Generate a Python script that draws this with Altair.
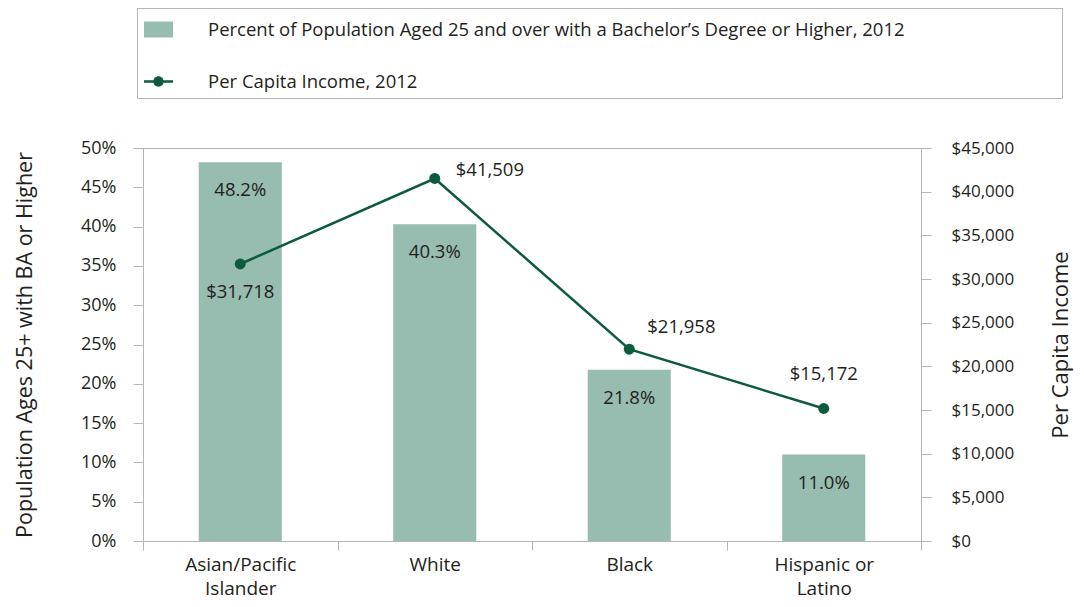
import altair as alt
import pandas as pd

categories = ["Asian/Pacific Islander", "White", "Black", "Hispanic or Latino"]
pct_bachelor = [48.2, 40.3, 21.8, 11.0]
per_capita_income = [31718, 41509, 21958, 15172]

series_bar = "Percent of Population Aged 25 and over with a Bachelor\u2019s Degree or Higher, 2012"
series_line = "Per Capita Income, 2012"

left_ticks = list(range(0, 51, 5))
right_ticks = list(range(0, 45001, 5000))

BAR = "#97bcb0"
LINE = "#0b5b3c"
TEXT = "#231f20"
GRAY = "#b5b5b5"
FONT = "Open Sans"

df = pd.DataFrame({
    "cat": categories,
    "pct": pct_bachelor,
    "income": per_capita_income,
    "series": [series_bar] * len(categories),
})

base = alt.Chart(df)

x = alt.X(
    "cat:N",
    sort=categories,
    scale=alt.Scale(paddingInner=0, paddingOuter=0),
    axis=alt.Axis(
        title=None,
        labelAngle=0,
        tickBand="extent",
        labelExpr="datum.label == 'Asian/Pacific Islander' ? ['Asian/Pacific', 'Islander'] : datum.label == 'Hispanic or Latino' ? ['Hispanic or', 'Latino'] : datum.label",
        labelFontSize=19,
        labelLineHeight=24,
        labelPadding=5,
        tickSize=9,
        labelBaseline="top",
    ),
)

y_left = alt.Y(
    "pct:Q",
    scale=alt.Scale(domain=[0, 50], nice=False),
    axis=alt.Axis(
        title="Population Ages 25+ with BA or Higher",
        values=left_ticks,
        labelExpr="datum.value + '%'",
        orient="left",
        tickSize=10,
        labelPadding=17,
        labelFontSize=18,
        titlePadding=44,
        titleFontSize=21.5,
    ),
)

sym_expr = (
    "datum.value === '" + series_line + "' ? "
    "'M-1,-0.085L-0.3,-0.085L-0.3,0.085L-1,0.085Z M0.3,-0.085L1,-0.085L1,0.085L0.3,0.085Z M0.36,0A0.36,0.36,0,1,1,-0.36,0A0.36,0.36,0,1,1,0.36,0Z' : "
    "'M-1,-0.55L1,-0.55L1,0.55L-1,0.55Z'"
)

bars = base.mark_bar(width=alt.RelativeBandSize(0.427)).encode(
    x=x,
    y=y_left,
    color=alt.Color(
        "series:N",
        scale=alt.Scale(domain=[series_bar, series_line], range=[BAR, LINE]),
        legend=alt.Legend(
            orient="none",
            legendX=-6,
            legendY=-140,
            direction="vertical",
            title="\u00a0",
            titleOrient="right",
            titlePadding=150,
            symbolType=alt.ExprRef(expr=sym_expr),
            symbolSize=841,
            symbolStrokeWidth=0,
            symbolOpacity=1,
            labelFontSize=18.5,
            labelLimit=1000,
            labelOffset=35,
            rowPadding=28,
            padding=7,
            strokeColor=GRAY,
            fillColor="white",
        ),
    ),
)

bar_text = base.mark_text(
    fontSize=18.5, color=TEXT, dy=28, baseline="middle", font=FONT
).transform_calculate(
    lbl="format(datum.pct, '.1f') + '%'"
).encode(x=x, y=y_left, text="lbl:N")

y_right = alt.Y(
    "income:Q",
    scale=alt.Scale(domain=[0, 45000], nice=False),
    axis=alt.Axis(
        title="Per Capita Income",
        values=right_ticks,
        format="$,.0f",
        orient="right",
        tickSize=10,
        labelPadding=20,
        labelFontSize=17,
        titlePadding=37,
        titleFontSize=22,
        titleAngle=270,
        titleBaseline="top",
    ),
)

line = base.mark_line(color=LINE, strokeWidth=2.5).encode(x=x, y=y_right)
points = base.mark_circle(color=LINE, size=120, opacity=1).encode(x=x, y=y_right)

def inc_label(cat, **kw):
    return base.mark_text(fontSize=18.5, color=TEXT, font=FONT, baseline="middle", **kw).transform_filter(
        alt.datum.cat == cat
    ).transform_calculate(
        lbl="format(datum.income, '$,.0f')"
    ).encode(x=x, y=y_right, text="lbl:N")

t1 = inc_label(categories[0], align="center", dy=28)
t2 = inc_label(categories[1], align="left", dx=21, dy=-8)
t3 = inc_label(categories[2], align="left", dx=18, dy=-22)
t4 = inc_label(categories[3], align="center", dy=-34)

left_layer = alt.layer(bars, bar_text)
right_layer = alt.layer(line, points, t1, t2, t3, t4)

chart = alt.layer(left_layer, right_layer).resolve_scale(
    y="independent"
).properties(
    width=778,
    height=393,
    autosize=alt.AutoSizeParams(type="none"),
    padding={"left": 135, "top": 140, "right": 155, "bottom": 58},
).configure(
    font=FONT,
).configure_view(
    stroke=GRAY, strokeWidth=1
).configure_axis(
    grid=False,
    domainColor=GRAY,
    tickColor=GRAY,
    labelColor=TEXT,
    titleColor=TEXT,
    labelFont=FONT,
    titleFont=FONT,
    labelFontSize=17,
    titleFontWeight="normal",
).configure_legend(
    labelColor=TEXT,
    labelFont=FONT,
)

chart.save("out.html", embed_options={"renderer": "svg", "actions": False})
